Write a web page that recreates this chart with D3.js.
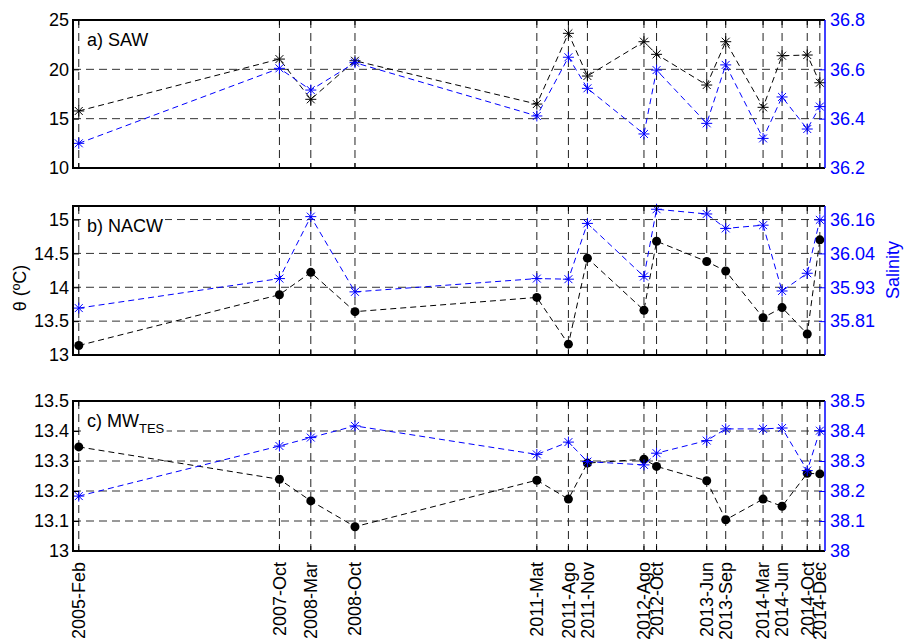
<!DOCTYPE html>
<html>
<head>
<meta charset="utf-8">
<script src="https://cdn.jsdelivr.net/npm/d3@7"></script>
<style>
  body { margin: 0; background: #fff; }
  text { font-family: "Liberation Sans", Arial, sans-serif; }
</style>
</head>
<body>
<svg id="chart" width="906" height="642"></svg>
<script>
// sampling dates (month resolution) and their labels
const dates = ['2005-02','2007-10','2008-03','2008-10','2011-03','2011-08','2011-11',
  '2012-08','2012-10','2013-06','2013-09','2014-03','2014-06','2014-10','2014-12']
const dateLabels = ['2005-Feb','2007-Oct','2008-Mar','2008-Oct','2011-Mat','2011-Ago','2011-Nov',
  '2012-Ago','2012-Oct','2013-Jun','2013-Sep','2014-Mar','2014-Jun','2014-Oct','2014-Dec']

// a) SAW
const sawTheta = [15.78, 21.04, 16.96, 20.87, 16.48, 23.65, 19.32, 22.8, 21.52, 18.41, 22.8, 16.15, 21.38, 21.45, 18.64]
const sawSal   = [36.30, 36.604, 36.516, 36.627, 36.411, 36.649, 36.523, 36.338, 36.597, 36.381, 36.618, 36.32, 36.488, 36.358, 36.449]
// b) NACW
const nacwTheta = [13.14, 13.89, 14.22, 13.64, 13.85, 13.16, 14.43, 13.66, 14.68, 14.38, 14.24, 13.55, 13.70, 13.31, 14.70]
const nacwSal   = [35.859, 35.959, 36.169, 35.914, 35.959, 35.957, 36.146, 35.966, 36.194, 36.178, 36.129, 36.140, 35.917, 35.977, 36.158]
// c) MW_TES
const mwTheta = [13.347, 13.239, 13.167, 13.081, 13.236, 13.173, 13.293, 13.306, 13.282, 13.234, 13.104, 13.173, 13.149, 13.259, 13.257]
const mwSal   = [38.183, 38.35, 38.378, 38.417, 38.322, 38.363, 38.298, 38.287, 38.326, 38.368, 38.407, 38.407, 38.41, 38.268, 38.401]

// axis ticks
const sawTicksL = [10, 15, 20, 25]
const sawTicksR = [36.2, 36.4, 36.6, 36.8]
const nacwTicksL = [13, 13.5, 14, 14.5, 15]
const mwTicksL = [13, 13.1, 13.2, 13.3, 13.4, 13.5]
const mwTicksR = [38, 38.1, 38.2, 38.3, 38.4, 38.5]

const svg = d3.select('#chart')
const parse = d3.timeParse('%Y-%m')
const xd = dates.map(parse)
const BLUE = '#0000ff'
const FS = 18

const x = d3.scaleTime()
  .domain([new Date(2005, 0, 4), new Date(2014, 11, 26)])
  .range([73, 825])

const panels = [
  { top: 20, bottom: 168, ldom: [10, 25], rdom: [36.2, 36.8],
    theta: sawTheta, sal: sawSal, tmark: 'star',
    lticks: sawTicksL, rticks: sawTicksR, rfmt: d3.format('.1f'), label: 'a) SAW' },
  { top: 206, bottom: 355, ldom: [13, 15.2], rdom: [35.7, 36.205],
    theta: nacwTheta, sal: nacwSal, tmark: 'dot',
    lticks: nacwTicksL, rticks: null, rfmt: d3.format('.2f'), label: 'b) NACW' },
  { top: 401, bottom: 551, ldom: [13, 13.5], rdom: [38, 38.5],
    theta: mwTheta, sal: mwSal, tmark: 'dot',
    lticks: mwTicksL, rticks: mwTicksR, rfmt: d3.format(''), label: 'c) MW', sub: 'TES' }
]

function star(g, cx, cy, color) {
  const r = 5.5, q = r * 0.72
  g.append('path')
    .attr('d', `M${cx-r},${cy}H${cx+r}M${cx},${cy-r}V${cy+r}` +
      `M${cx-q},${cy-q}L${cx+q},${cy+q}M${cx-q},${cy+q}L${cx+q},${cy-q}`)
    .attr('stroke', color).attr('stroke-width', 1).attr('fill', 'none')
}

panels.forEach(p => {
  const yl = d3.scaleLinear().domain(p.ldom).range([p.bottom, p.top])
  const yr = d3.scaleLinear().domain(p.rdom).range([p.bottom, p.top])
  // right ticks for b) sit on the left gridlines
  const rticks = p.rticks || p.lticks.filter(t => t > p.ldom[0]).map(t => yr.invert(yl(t)))
  const g = svg.append('g')

  // grid
  g.selectAll('.hg').data(p.lticks.filter(t => t > p.ldom[0] && t < p.ldom[1]))
    .join('line')
    .attr('x1', x.range()[0]).attr('x2', x.range()[1])
    .attr('y1', d => yl(d)).attr('y2', d => yl(d))
    .attr('stroke', '#333').attr('stroke-width', 1).attr('stroke-dasharray', '8,5')
  g.selectAll('.vg').data(xd)
    .join('line')
    .attr('x1', d => x(d)).attr('x2', d => x(d))
    .attr('y1', p.top).attr('y2', p.bottom)
    .attr('stroke', '#222').attr('stroke-width', 1).attr('stroke-dasharray', '8,5')

  // temperature series (black)
  const lineL = d3.line().x((d, i) => x(xd[i])).y(d => yl(d))
  const lineR = d3.line().x((d, i) => x(xd[i])).y(d => yr(d))
  g.append('path').attr('d', lineL(p.theta))
    .attr('fill', 'none').attr('stroke', '#000').attr('stroke-width', 1)
    .attr('stroke-dasharray', '6,4')
  p.theta.forEach((v, i) => {
    if (p.tmark == 'star') star(g, x(xd[i]), yl(v), '#000')
    else g.append('circle').attr('cx', x(xd[i])).attr('cy', yl(v)).attr('r', 4.5).attr('fill', '#000')
  })

  // salinity series (blue)
  g.append('path').attr('d', lineR(p.sal))
    .attr('fill', 'none').attr('stroke', BLUE).attr('stroke-width', 1)
    .attr('stroke-dasharray', '6,4')
  p.sal.forEach((v, i) => star(g, x(xd[i]), yr(v), BLUE))

  // panel label with white box
  const lab = g.append('text').attr('x', 87).attr('y', p.top + 26)
    .attr('font-size', FS).attr('fill', '#000')
  lab.append('tspan').text(p.label)
  if (p.sub) lab.append('tspan').attr('font-size', 13).attr('dy', 6).text(p.sub)
  const bb = lab.node().getBBox()
  g.insert('rect', 'text')
    .attr('x', bb.x - 2).attr('y', bb.y + 1).attr('width', bb.width + 4).attr('height', bb.height - 2)
    .attr('fill', '#fff')

  // left axis
  const la = d3.axisLeft(yl).tickValues(p.lticks).tickSize(-6).tickPadding(4).tickFormat(d3.format(''))
  const lg = g.append('g').attr('transform', `translate(${x.range()[0]},0)`).call(la)
  lg.select('.domain').remove()
  lg.selectAll('line').attr('stroke', '#000').attr('stroke-width', 1)
  lg.selectAll('text').attr('font-size', FS).attr('fill', '#000')
    .attr('font-family', '"Liberation Sans", Arial, sans-serif')

  // right axis
  const ra = d3.axisRight(yr).tickValues(rticks).tickSize(-6).tickPadding(5).tickFormat(p.rfmt)
  const rg = g.append('g').attr('transform', `translate(${x.range()[1]},0)`).call(ra)
  rg.select('.domain').remove()
  rg.selectAll('line').attr('stroke', BLUE).attr('stroke-width', 1)
  rg.selectAll('text').attr('font-size', FS).attr('fill', BLUE)
    .attr('font-family', '"Liberation Sans", Arial, sans-serif')

  // top / bottom date ticks
  ;[[p.bottom, -5], [p.top, 5]].forEach(([yy, len]) => {
    g.selectAll(null).data(xd).join('line')
      .attr('x1', d => x(d)).attr('x2', d => x(d))
      .attr('y1', yy).attr('y2', yy + len)
      .attr('stroke', '#000').attr('stroke-width', 1)
  })

  // frame
  const [x0, x1] = x.range()
  g.append('path').attr('d', `M${x1},${p.top}H${x0}V${p.bottom}H${x1}`)
    .attr('fill', 'none').attr('stroke', '#000').attr('stroke-width', 2)
  g.append('line').attr('x1', x1).attr('x2', x1).attr('y1', p.top).attr('y2', p.bottom)
    .attr('stroke', BLUE).attr('stroke-width', 1.5)
})

// date labels under the last panel
svg.append('g').selectAll('text').data(xd).join('text')
  .attr('transform', d => `translate(${x(d)},562) rotate(-90)`)
  .attr('text-anchor', 'end').attr('dy', '0.35em')
  .attr('font-size', FS).attr('fill', '#000')
  .text((d, i) => dateLabels[i])

// axis titles
svg.append('text').attr('transform', 'translate(26,288) rotate(-90)')
  .attr('text-anchor', 'middle').attr('font-size', FS).text('θ (ºC)')
svg.append('text').attr('transform', 'translate(899,270) rotate(-90)')
  .attr('text-anchor', 'middle').attr('font-size', FS).attr('fill', BLUE).text('Salinity')
</script>
</body>
</html>
